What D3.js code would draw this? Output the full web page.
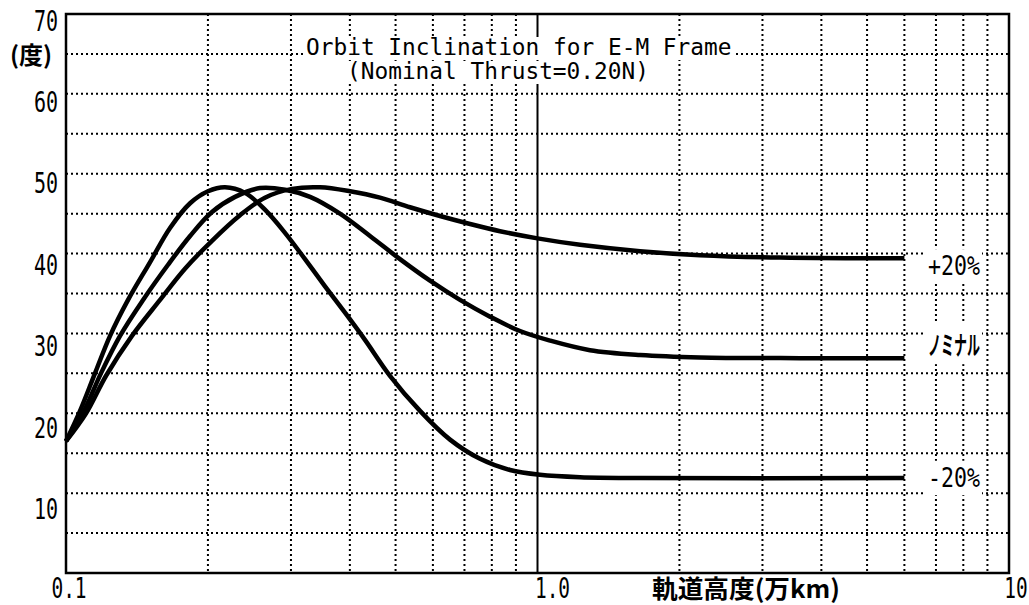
<!DOCTYPE html>
<html>
<head>
<meta charset="utf-8">
<script src="https://cdn.jsdelivr.net/npm/d3@7"></script>
<style>
  html, body { margin: 0; padding: 0; background: #fff; }
  svg { display: block; }
</style>
</head>
<body>
<svg id="chart" width="1029" height="605"></svg>
<script>
// Orbit altitude (10,000 km units) and inclination (degrees) per thrust case
const altMinus20 = [0.100, 0.1071, 0.1152, 0.1240, 0.1354, 0.1507, 0.1662, 0.1833, 0.2001, 0.2174, 0.2397, 0.2642, 0.2914, 0.3213, 0.3543, 0.3906, 0.4306, 0.4865, 0.5634, 0.6523, 0.7552, 0.8745, 1.012, 1.231, 1.650, 6.00];
const incMinus20 = [16.5, 20.3, 25.0, 29.7, 34.2, 38.9, 43.2, 46.3, 47.8, 48.3, 47.6, 45.5, 42.6, 39.3, 35.9, 32.6, 29.2, 24.7, 20.3, 16.7, 14.3, 12.9, 12.3, 12.0, 11.9, 11.9];

const altNominal = [0.100, 0.1092, 0.1186, 0.1302, 0.1457, 0.1646, 0.1833, 0.2040, 0.2283, 0.2578, 0.2914, 0.3293, 0.3811, 0.4413, 0.5109, 0.5916, 0.6849, 0.7931, 0.9182, 1.063, 1.292, 1.650, 2.211, 3.604, 6.00];
const incNominal = [16.5, 20.3, 25.0, 29.7, 34.2, 38.6, 42.2, 45.2, 47.1, 48.2, 48.0, 47.1, 45.0, 42.2, 39.3, 36.6, 34.2, 32.1, 30.3, 29.1, 27.9, 27.3, 27.0, 26.9, 26.9];

const altPlus20 = [0.100, 0.1103, 0.1216, 0.1380, 0.1583, 0.1788, 0.2040, 0.2339, 0.2642, 0.3015, 0.3458, 0.4003, 0.4634, 0.5365, 0.6212, 0.7193, 0.8327, 1.000, 1.231, 1.650, 2.211, 3.268, 6.00];
const incPlus20 = [16.5, 20.0, 24.7, 29.7, 34.2, 38.1, 41.6, 44.8, 47.0, 48.1, 48.3, 47.8, 47.0, 45.8, 44.7, 43.7, 42.8, 41.9, 41.1, 40.3, 39.8, 39.5, 39.4];

const seriesLabels = ["+20%", "ノミナル", "-20%"];

const yTickValues = [10, 20, 30, 40, 50, 60, 70];
const yGridValues = [5, 10, 15, 20, 25, 30, 35, 40, 45, 50, 55, 60, 65];
const xTickValues = [0.1, 1, 10];
const xTickLabels = ["0.1", "1.0", "10"];
const xGridValues = [0.2, 0.3, 0.4, 0.5, 0.6, 0.7, 0.8, 0.9, 2, 3, 4, 5, 6, 7, 8, 9];

const titleLines = ["Orbit Inclination for E-M Frame", "(Nominal Thrust=0.20N)"];
const xAxisTitle = "軌道高度(万km)";
const yAxisTitle = "(度)";

// ---- layout ----
const svg = d3.select("#chart");
const plotL = 66, plotR = 1009, plotT = 14, plotB = 573;
const x = d3.scaleLog().domain([0.1, 10]).range([plotL, plotR]);
const y = d3.scaleLinear().domain([0, 70]).range([plotB, plotT]);

const mono = "'DejaVu Sans Mono', 'Liberation Mono', monospace";
const cjk = "'Noto Sans CJK JP', 'Noto Sans', sans-serif";

// dotted grid
const grid = svg.append("g")
  .attr("stroke", "#000")
  .attr("stroke-width", 2)
  .attr("stroke-dasharray", "2,3");

grid.selectAll("line.h").data(yGridValues).join("line")
  .attr("class", "h")
  .attr("x1", plotL).attr("x2", plotR)
  .attr("y1", d => y(d)).attr("y2", d => y(d));

grid.selectAll("line.v").data(xGridValues).join("line")
  .attr("class", "v")
  .attr("x1", d => x(d)).attr("x2", d => x(d))
  .attr("y1", plotT).attr("y2", plotB);

// solid decade line at 1.0
svg.append("line")
  .attr("x1", x(1)).attr("x2", x(1))
  .attr("y1", plotT).attr("y2", plotB)
  .attr("stroke", "#000").attr("stroke-width", 2);

// frame
svg.append("rect")
  .attr("x", plotL).attr("y", plotT)
  .attr("width", plotR - plotL).attr("height", plotB - plotT)
  .attr("fill", "none").attr("stroke", "#000").attr("stroke-width", 2.5);

// curves
const line = d3.line()
  .x(d => x(d[0]))
  .y(d => y(d[1]))
  .curve(d3.curveCatmullRom.alpha(0.5));

const series = [
  d3.zip(altPlus20, incPlus20),
  d3.zip(altNominal, incNominal),
  d3.zip(altMinus20, incMinus20)
];

svg.append("g").selectAll("path").data(series).join("path")
  .attr("d", line)
  .attr("fill", "none")
  .attr("stroke", "#000")
  .attr("stroke-width", 4.5)
  .attr("stroke-linejoin", "round")
  .attr("stroke-linecap", "butt");

// text with a white backing box that hides the grid underneath
function boxedText(g, pad) {
  const bb = g.node().getBBox();
  g.insert("rect", ":first-child")
    .attr("x", bb.x - pad).attr("y", bb.y - pad)
    .attr("width", bb.width + 2 * pad).attr("height", bb.height + 2 * pad)
    .attr("fill", "#fff");
}

// title
const titleX = [306, 347];
const titleY = [55, 79];
titleLines.forEach((t, i) => {
  const g = svg.append("g");
  g.append("text")
    .attr("x", titleX[i]).attr("y", titleY[i])
    .attr("font-family", mono)
    .attr("font-size", 22.8)
    .attr("fill", "#000")
    .text(t);
  const bb = g.node().getBBox();
  g.insert("rect", ":first-child")
    .attr("x", bb.x - 3).attr("y", titleY[i] - 18)
    .attr("width", bb.width + 6).attr("height", 23)
    .attr("fill", "#fff");
});

// end-of-curve labels
const ends = [incPlus20[incPlus20.length - 1], incNominal[incNominal.length - 1], incMinus20[incMinus20.length - 1]];
const labelDy = [8, -15, 0];
seriesLabels.forEach((t, i) => {
  const g = svg.append("g")
    .attr("transform", `translate(954,${y(ends[i]) + labelDy[i]})`);
  const isKana = i === 1;
  g.append("text")
    .attr("text-anchor", "middle")
    .attr("dominant-baseline", "central")
    .attr("font-family", isKana ? cjk : mono)
    .attr("font-size", isKana ? 26 : 21.6)
    .attr("font-weight", isKana ? "bold" : "normal")
    .attr("fill", "#000")
    .attr("transform", isKana ? "scale(0.5,1)" : "scale(1,1.2)")
    .text(t);
  boxedText(g, 2);
});

// y tick labels
svg.append("g").selectAll("text").data(yTickValues).join("text")
  .attr("transform", d => `translate(58,${y(d) + 7 + (70 - d) * 0.15}) scale(1,1.4)`)
  .attr("text-anchor", "end")
  .attr("dominant-baseline", "central")
  .attr("font-family", mono)
  .attr("font-size", 20)
  .attr("fill", "#000")
  .text(d => d);

// x tick labels
const xLabelDx = [3, 15, 7];
svg.append("g").selectAll("text").data(xTickValues).join("text")
  .attr("transform", (d, i) => `translate(${x(d) + xLabelDx[i]},588) scale(1,1.45)`)
  .attr("text-anchor", "middle")
  .attr("dominant-baseline", "central")
  .attr("font-family", mono)
  .attr("font-size", 19.5)
  .attr("fill", "#000")
  .text((d, i) => xTickLabels[i]);

// axis titles
svg.append("text")
  .attr("x", 652).attr("y", 587)
  .attr("dominant-baseline", "central")
  .attr("font-family", cjk)
  .attr("font-size", 25)
  .attr("font-weight", "bold")
  .attr("textLength", 188)
  .attr("lengthAdjust", "spacingAndGlyphs")
  .attr("fill", "#000")
  .text(xAxisTitle);

svg.append("text")
  .attr("x", 31).attr("y", 53)
  .attr("text-anchor", "middle")
  .attr("dominant-baseline", "central")
  .attr("font-family", cjk)
  .attr("font-size", 24)
  .attr("font-weight", "bold")
  .attr("fill", "#000")
  .text(yAxisTitle);
</script>
</body>
</html>
